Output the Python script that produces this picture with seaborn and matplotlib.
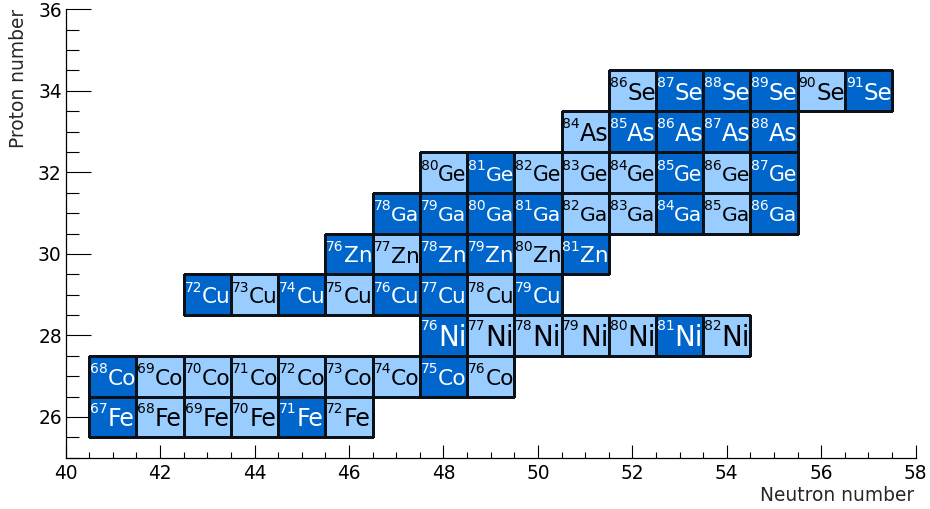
import numpy as np
import pandas as pd
import matplotlib
matplotlib.use("Agg")
import matplotlib.pyplot as plt
from matplotlib.colors import ListedColormap
from matplotlib.font_manager import FontProperties
from matplotlib.ticker import MultipleLocator
import seaborn as sns

# ---- nuclides on the chart -------------------------------------------------
elements = ["Fe", "Co", "Ni", "Cu", "Zn", "Ga", "Ge", "As", "Se"]
proton_numbers = [26, 27, 28, 29, 30, 31, 32, 33, 34]
lightest_mass = [67, 68, 76, 72, 76, 78, 80, 84, 86]
heaviest_mass = [72, 76, 82, 79, 81, 86, 87, 88, 91]

# mass numbers drawn in the dark shade, per element
dark_fe = [67, 71]
dark_co = [68, 75]
dark_ni = [76, 81]
dark_cu = [72, 74, 76, 77, 79]
dark_zn = [76, 78, 79, 81]
dark_ga = [78, 79, 80, 81, 84, 86]
dark_ge = [81, 85, 87]
dark_as = [85, 86, 87, 88]
dark_se = [87, 88, 89, 91]

x_ticks = [40, 42, 44, 46, 48, 50, 52, 54, 56, 58]
y_ticks = [26, 28, 30, 32, 34, 36]

# ---- styling ---------------------------------------------------------------
FONT = "DejaVu Sans"
DARK = "#0066CC"
LIGHT = "#99CCFF"
EDGE = "#0b1118"
SUP_PT = 10.0
LABEL_PT = 13.4
# upper bound on the symbol size per element (points); it is also shrunk
# so that mass number + symbol fit inside one cell
symbol_pt = {"Fe": 17.0, "Co": 16.5, "Ni": 21.0, "Cu": 16.5, "Zn": 16.5,
             "Ga": 17.0, "Ge": 17.0, "As": 17.5, "Se": 17.0}

dark_by_element = dict(zip(elements, [dark_fe, dark_co, dark_ni, dark_cu, dark_zn,
                                      dark_ga, dark_ge, dark_as, dark_se]))

rows = []
for sym, z, a_lo, a_hi in zip(elements, proton_numbers, lightest_mass, heaviest_mass):
    for a in range(a_lo, a_hi + 1):
        rows.append({"element": sym, "Z": z, "A": a, "N": a - z,
                     "shade": 2 if a in dark_by_element[sym] else 1})
cells = pd.DataFrame(rows)

sns.set_style("ticks")
plt.rcParams["font.family"] = [FONT]

fig = plt.figure(figsize=(9.3, 5.09), dpi=100)
ax = fig.add_axes([0.0706, 0.1008, 0.9140, 0.8809])

cmap = ListedColormap([LIGHT, DARK])
for z, row in cells.groupby("Z"):
    sns.histplot(data=row, x="N", y="Z", weights="shade", discrete=True,
                 cmap=cmap, vmin=0.5, vmax=2.5, edgecolors=EDGE,
                 linewidth=0.76, cbar=False, ax=ax)

ax.set_xlim(40, 58)
ax.set_ylim(25, 36)
ax.set_xticks(x_ticks)
ax.set_yticks(y_ticks)
ax.set_xticklabels([str(t) for t in x_ticks])
ax.set_yticklabels([str(t) for t in y_ticks])
ax.xaxis.set_minor_locator(MultipleLocator(0.5))
ax.yaxis.set_minor_locator(MultipleLocator(0.5))
ax.tick_params(axis="both", which="both", direction="in", width=0.8,
               color="black", labelsize=LABEL_PT, labelcolor="black")
ax.tick_params(axis="x", which="major", length=9.1, pad=4.4)
ax.tick_params(axis="x", which="minor", length=4.4)
ax.tick_params(axis="y", which="major", length=18.2, pad=2.8)
ax.tick_params(axis="y", which="minor", length=9.1)
ax.tick_params(top=False, right=False, which="both")
for side in ["top", "right"]:
    ax.spines[side].set_visible(False)
for side in ["left", "bottom"]:
    ax.spines[side].set_linewidth(0.9)
    ax.spines[side].set_color("black")
ax.grid(False)

ax.set_xlabel("Neutron number", fontsize=LABEL_PT, loc="right")
ax.set_ylabel("Proton number", fontsize=LABEL_PT, loc="top")
ax.xaxis.set_label_coords(0.998, -0.063)
ax.yaxis.set_label_coords(-0.0438, 1.0)

# ---- isotope labels: small mass number followed by the element symbol ------
fig.canvas.draw()
renderer = fig.canvas.get_renderer()
px_per_pt = fig.dpi / 72.0


def text_width(s, size):
    w, _, _ = renderer.get_text_width_height_descent(
        s, FontProperties(family=FONT, size=size), ismath=False)
    return w


p0 = ax.transData.transform((40, 25))
p1 = ax.transData.transform((41, 26))
cell_w = p1[0] - p0[0]
CAP = 0.729  # cap height of the font, in em
left_pad = 0.8
avail = cell_w - 2.0 * left_pad + 0.5

for _, c in cells.iterrows():
    mass = str(c["A"])
    sym = c["element"]
    sup_w = text_width(mass, SUP_PT)
    fit = 10.0 * (avail - sup_w) / text_width(sym, 10.0)
    size = min(symbol_pt[sym], fit)
    cap_px = CAP * size * px_per_pt
    base = -cap_px / 2.0 - 0.7
    sup_base = base + cap_px - 4.0
    colour = "white" if c["shade"] == 2 else "black"
    x0 = c["N"] - 0.5
    ax.annotate(mass, xy=(x0, c["Z"]), xycoords="data",
                xytext=(left_pad, sup_base), textcoords="offset pixels",
                ha="left", va="baseline", fontsize=SUP_PT, color=colour)
    ax.annotate(sym, xy=(x0, c["Z"]), xycoords="data",
                xytext=(left_pad + sup_w, base), textcoords="offset pixels",
                ha="left", va="baseline", fontsize=size, color=colour)

fig.savefig("out.png", dpi=100)
